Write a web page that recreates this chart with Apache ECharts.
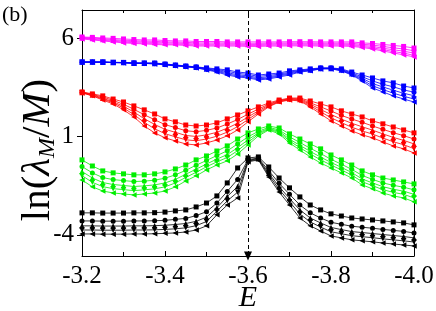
<!DOCTYPE html>
<html><head><meta charset="utf-8">
<script src="https://cdn.jsdelivr.net/npm/echarts@6/dist/echarts.min.js"></script>
<style>html,body{margin:0;padding:0;background:#fff}#c{width:436px;height:311px}</style>
</head><body><div id="c"></div>
<script>
const E = [-3.2,-3.225,-3.25,-3.275,-3.3,-3.325,-3.35,-3.375,-3.4,-3.425,-3.45,-3.475,-3.5,-3.525,-3.55,-3.575,-3.6,-3.625,-3.65,-3.675,-3.7,-3.725,-3.75,-3.775,-3.8,-3.825,-3.85,-3.875,-3.9,-3.925,-3.95,-3.975,-4.0];
const xTicks = [-3.2,-3.4,-3.6,-3.8,-4.0];
const yTicks = [-4, 1, 6];
const markE = -3.6;

const black1 = [-2.88,-2.88,-2.89,-2.89,-2.89,-2.88,-2.88,-2.87,-2.84,-2.78,-2.73,-2.58,-2.38,-2.02,-1.36,-0.60,-0.09,-0.04,-0.55,-1.11,-1.61,-2.07,-2.48,-2.73,-2.93,-3.04,-3.14,-3.19,-3.24,-3.29,-3.34,-3.39,-3.49];
const black2 = [-3.29,-3.29,-3.30,-3.30,-3.30,-3.29,-3.29,-3.28,-3.26,-3.21,-3.16,-3.02,-2.82,-2.38,-1.79,-1.18,-0.17,-0.10,-0.74,-1.38,-1.94,-2.48,-2.88,-3.14,-3.36,-3.46,-3.56,-3.61,-3.66,-3.72,-3.77,-3.82,-3.90];
const black3 = [-3.54,-3.54,-3.55,-3.55,-3.55,-3.54,-3.54,-3.53,-3.51,-3.47,-3.42,-3.31,-3.10,-2.62,-2.05,-1.54,-0.21,-0.13,-0.87,-1.55,-2.15,-2.73,-3.14,-3.39,-3.62,-3.73,-3.83,-3.88,-3.93,-3.98,-4.03,-4.08,-4.15];
const black4 = [-3.75,-3.75,-3.76,-3.76,-3.76,-3.75,-3.75,-3.74,-3.72,-3.69,-3.64,-3.53,-3.32,-2.80,-2.27,-1.83,-0.25,-0.16,-0.96,-1.69,-2.31,-2.94,-3.34,-3.60,-3.84,-3.94,-4.04,-4.09,-4.14,-4.20,-4.25,-4.30,-4.36];
const black5 = [-3.95,-3.95,-3.96,-3.96,-3.96,-3.95,-3.95,-3.94,-3.92,-3.90,-3.85,-3.75,-3.54,-2.98,-2.48,-2.12,-0.29,-0.19,-1.06,-1.82,-2.48,-3.14,-3.54,-3.80,-4.05,-4.15,-4.25,-4.30,-4.35,-4.41,-4.46,-4.51,-4.56];

const green1 = [-0.19,-0.50,-0.75,-0.85,-0.90,-0.95,-0.95,-0.90,-0.80,-0.65,-0.45,-0.19,0.01,0.26,0.52,0.87,1.18,1.38,1.53,1.43,1.13,0.87,0.62,0.37,0.06,-0.19,-0.45,-0.75,-0.95,-1.11,-1.21,-1.31,-1.41];
const green2 = [-0.53,-0.85,-1.09,-1.19,-1.24,-1.29,-1.27,-1.22,-1.12,-0.95,-0.72,-0.46,-0.22,0.03,0.27,0.62,0.98,1.26,1.46,1.33,0.98,0.69,0.40,0.13,-0.16,-0.41,-0.67,-0.98,-1.18,-1.36,-1.48,-1.58,-1.71];
const green3 = [-0.78,-1.11,-1.34,-1.44,-1.49,-1.54,-1.51,-1.46,-1.36,-1.18,-0.92,-0.66,-0.40,-0.15,0.08,0.43,0.83,1.18,1.41,1.26,0.86,0.55,0.24,-0.05,-0.32,-0.57,-0.83,-1.16,-1.36,-1.55,-1.68,-1.78,-1.94];
const green4 = [-0.99,-1.33,-1.55,-1.65,-1.70,-1.75,-1.71,-1.66,-1.56,-1.36,-1.08,-0.82,-0.54,-0.29,-0.07,0.28,0.70,1.11,1.37,1.20,0.77,0.43,0.11,-0.19,-0.45,-0.70,-0.96,-1.30,-1.50,-1.70,-1.84,-1.94,-2.12];
const green5 = [-1.21,-1.56,-1.77,-1.87,-1.92,-1.97,-1.92,-1.87,-1.77,-1.56,-1.26,-1.00,-0.70,-0.45,-0.24,0.11,0.57,1.03,1.33,1.13,0.67,0.31,-0.04,-0.35,-0.60,-0.85,-1.11,-1.46,-1.66,-1.87,-2.02,-2.12,-2.32];

const red1 = [3.26,3.16,3.06,2.90,2.75,2.55,2.35,2.14,1.89,1.74,1.58,1.53,1.58,1.69,1.89,2.09,2.30,2.50,2.70,2.85,2.95,2.95,2.80,2.65,2.50,2.30,2.14,1.99,1.79,1.64,1.48,1.33,1.18];
const red2 = [3.25,3.13,3.00,2.83,2.63,2.38,2.10,1.85,1.60,1.45,1.29,1.24,1.31,1.43,1.63,1.86,2.13,2.39,2.64,2.82,2.92,2.91,2.71,2.50,2.29,2.07,1.88,1.72,1.53,1.36,1.19,1.04,0.87];
const red3 = [3.23,3.11,2.94,2.76,2.53,2.24,1.90,1.61,1.36,1.21,1.05,1.00,1.08,1.21,1.42,1.67,1.99,2.30,2.59,2.80,2.90,2.87,2.64,2.37,2.11,1.88,1.67,1.49,1.32,1.13,0.95,0.80,0.62];
const red4 = [3.22,3.08,2.90,2.71,2.44,2.11,1.71,1.39,1.14,0.98,0.83,0.78,0.87,1.01,1.22,1.50,1.86,2.22,2.54,2.77,2.87,2.83,2.57,2.25,1.95,1.70,1.47,1.28,1.12,0.92,0.73,0.58,0.38];
const red5 = [3.21,3.06,2.85,2.65,2.35,1.99,1.53,1.18,0.93,0.77,0.62,0.57,0.67,0.82,1.03,1.33,1.74,2.14,2.50,2.75,2.85,2.80,2.50,2.14,1.79,1.53,1.28,1.08,0.93,0.72,0.52,0.37,0.16];

const blue1 = [4.78,4.78,4.78,4.76,4.76,4.73,4.73,4.73,4.68,4.63,4.58,4.53,4.48,4.43,4.38,4.27,4.22,4.12,4.17,4.22,4.33,4.38,4.43,4.48,4.48,4.43,4.27,4.12,3.97,3.82,3.72,3.56,3.46];
const blue2 = [4.78,4.78,4.78,4.76,4.75,4.73,4.72,4.72,4.67,4.62,4.57,4.52,4.45,4.39,4.31,4.20,4.15,4.05,4.10,4.16,4.27,4.35,4.40,4.47,4.47,4.40,4.22,4.03,3.82,3.65,3.52,3.36,3.25];
const blue3 = [4.78,4.78,4.77,4.76,4.75,4.72,4.72,4.70,4.66,4.61,4.56,4.51,4.43,4.35,4.24,4.13,4.08,3.98,4.03,4.11,4.22,4.33,4.38,4.45,4.45,4.38,4.18,3.95,3.69,3.51,3.35,3.19,3.07];
const blue4 = [4.77,4.77,4.77,4.75,4.74,4.72,4.71,4.69,4.64,4.59,4.54,4.49,4.40,4.31,4.18,4.07,4.02,3.92,3.97,4.07,4.17,4.30,4.35,4.44,4.44,4.35,4.15,3.88,3.57,3.38,3.20,3.04,2.90];
const blue5 = [4.77,4.77,4.77,4.75,4.73,4.71,4.71,4.68,4.63,4.58,4.53,4.48,4.38,4.27,4.12,4.02,3.97,3.87,3.92,4.02,4.12,4.27,4.33,4.43,4.43,4.33,4.12,3.82,3.46,3.26,3.06,2.90,2.75];

const magenta1 = [6.05,6.03,6.00,5.98,5.95,5.92,5.90,5.90,5.87,5.85,5.85,5.82,5.82,5.82,5.80,5.80,5.80,5.80,5.80,5.80,5.81,5.81,5.81,5.80,5.80,5.80,5.80,5.75,5.72,5.67,5.62,5.57,5.49];
const magenta2 = [6.02,6.00,5.96,5.92,5.89,5.86,5.84,5.83,5.80,5.79,5.78,5.75,5.75,5.75,5.74,5.74,5.73,5.73,5.74,5.74,5.75,5.75,5.75,5.74,5.74,5.74,5.73,5.68,5.64,5.57,5.50,5.44,5.35];
const magenta3 = [6.00,5.97,5.92,5.88,5.84,5.81,5.79,5.77,5.75,5.74,5.72,5.69,5.69,5.69,5.69,5.69,5.67,5.67,5.69,5.69,5.70,5.70,5.70,5.69,5.69,5.69,5.67,5.62,5.57,5.48,5.40,5.33,5.23];
const magenta4 = [5.98,5.94,5.88,5.84,5.79,5.76,5.74,5.72,5.69,5.69,5.67,5.64,5.64,5.64,5.64,5.64,5.62,5.62,5.64,5.64,5.65,5.65,5.65,5.64,5.64,5.64,5.62,5.57,5.50,5.41,5.31,5.23,5.12];
const magenta5 = [5.95,5.90,5.85,5.80,5.75,5.72,5.70,5.67,5.65,5.65,5.62,5.59,5.59,5.59,5.59,5.59,5.57,5.57,5.59,5.59,5.60,5.60,5.60,5.59,5.59,5.59,5.57,5.52,5.44,5.34,5.24,5.14,5.04];

const groups = [
  {color:'#ff00ff', lines:[magenta1,magenta2,magenta3,magenta4,magenta5]},
  {color:'#0000ff', lines:[blue1,blue2,blue3,blue4,blue5]},
  {color:'#ff0000', lines:[red1,red2,red3,red4,red5]},
  {color:'#00ee00', lines:[green1,green2,green3,green4,green5]},
  {color:'#000000', lines:[black1,black2,black3,black4,black5]}
];
const markers = [
  {s:'rect', r:0, size:5},
  {s:'circle', r:0, size:5},
  {s:'triangle', r:0, size:5.5},
  {s:'triangle', r:180, size:5.5},
  {s:'triangle', r:90, size:5.5}
];

const FONT = '"Liberation Serif", "Times New Roman", serif';
const series = [];
groups.forEach(g => {
  g.lines.forEach((vals, j) => {
    series.push({
      type:'line',
      data: vals.map((v,i)=>[E[i], v]),
      symbol: markers[j].s,
      symbolRotate: markers[j].r,
      symbolSize: markers[j].size,
      showSymbol: true,
      lineStyle:{color:g.color, width:0.8},
      itemStyle:{color:g.color},
      animation:false,
      silent:true
    });
  });
});
series.push({
  type:'line', data:[], silent:true, animation:false,
  markLine:{
    silent:true, animation:false,
    symbol:['triangle','none'], symbolSize:[8,9], symbolRotate:180, symbolOffset:[0,-4],
    label:{show:false},
    lineStyle:{color:'#000', type:[4,3], width:1},
    data:[{xAxis: markE}]
  }
});

const chart = echarts.init(document.getElementById('c'), null, {renderer:'canvas'});
chart.setOption({
  animation:false,
  backgroundColor:'#fff',
  textStyle:{fontFamily:FONT},
  grid:{left:82, right:22, top:10, bottom:55, containLabel:false, outerBoundsMode:'none'},
  graphic:[{type:'text', left:2, top:4, style:{text:'(b)', font:'22px "Liberation Serif"', fill:'#000'}}],
  xAxis:[{
    type:'value', inverse:true, min:-4.0, max:-3.2, interval:0.2,
    name:'E', nameLocation:'middle', nameGap:27, nameMoveOverlap:false,
    nameTextStyle:{fontFamily:FONT, fontSize:30, fontStyle:'italic', color:'#000'},
    axisLine:{onZero:false, lineStyle:{color:'#000', width:1}},
    axisTick:{inside:true, length:5, lineStyle:{color:'#000'}},
    minorTick:{show:true, splitNumber:2, length:4, lineStyle:{color:'#000'}},
    splitLine:{show:false},
    axisLabel:{fontFamily:FONT, fontSize:25, color:'#000', margin:8,
      formatter:v=>Number(v).toFixed(1)}
  },{
    type:'value', inverse:true, min:-4.0, max:-3.2, interval:0.2, position:'top',
    axisLine:{onZero:false, lineStyle:{color:'#000', width:1}},
    axisTick:{inside:true, length:4, lineStyle:{color:'#000'}},
    minorTick:{show:true, splitNumber:2, length:3, lineStyle:{color:'#000'}},
    splitLine:{show:false}, axisLabel:{show:false}
  }],
  yAxis:[{
    type:'value', min:-5.07, max:7.42,
    name:'{n|ln(}{i|λ}{s|M}{n|/}{i|M}{n|)}', nameLocation:'middle', nameGap:22, nameRotate:90, nameMoveOverlap:false,
    nameTextStyle:{color:'#000', padding:[0,34,0,0], rich:{
      n:{fontFamily:FONT, fontSize:41, color:'#000'},
      i:{fontFamily:FONT, fontSize:41, fontStyle:'italic', color:'#000'},
      s:{fontFamily:FONT, fontSize:24, fontStyle:'italic', color:'#000', padding:[19,0,0,0]}
    }},
    axisLine:{show:true, onZero:false, lineStyle:{color:'#000', width:1}},
    axisTick:{show:true, inside:false, length:5, customValues:yTicks, lineStyle:{color:'#000'}},
    splitLine:{show:false},
    axisLabel:{fontFamily:FONT, fontSize:25, color:'#000', margin:8, customValues:yTicks}
  },{
    type:'value', min:-5.07, max:7.42, position:'right',
    axisLine:{show:true, onZero:false, lineStyle:{color:'#000', width:1}},
    axisTick:{show:false}, splitLine:{show:false}, axisLabel:{show:false}
  }],
  series: series
});
</script></body></html>
